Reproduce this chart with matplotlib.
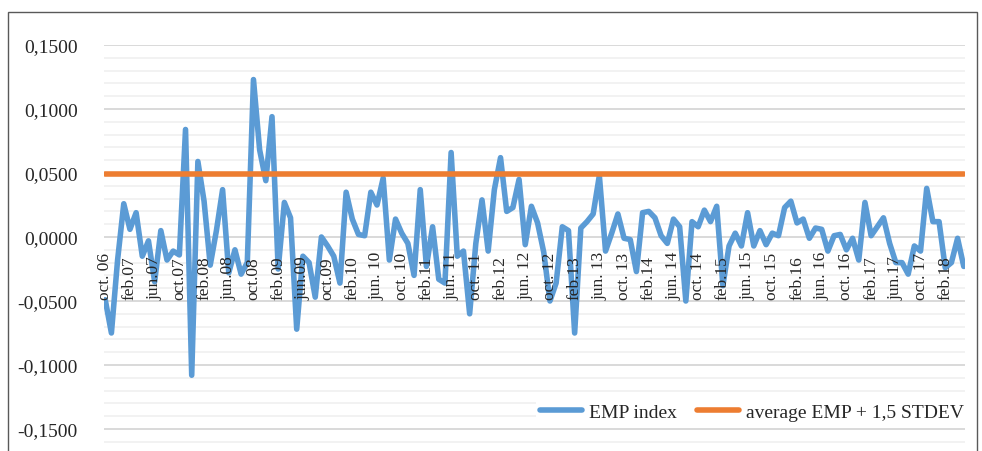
import matplotlib
matplotlib.use("Agg")
import matplotlib.pyplot as plt
from matplotlib.patches import Rectangle
from matplotlib.ticker import MultipleLocator

plt.rcParams['font.family'] = ['Liberation Serif', 'DejaVu Serif']

# EMP index, monthly from Oct 2006 to May 2018
emp_index = [
    -0.049, -0.075, -0.018, 0.026, 0.006, 0.019, -0.015, -0.003, -0.035, 0.005,
    -0.018, -0.011, -0.014, 0.084, -0.108, 0.059, 0.028, -0.022, 0.005, 0.037,
    -0.028, -0.010, -0.029, -0.020, 0.123, 0.068, 0.044, 0.094, -0.025, 0.027,
    0.015, -0.072, -0.015, -0.020, -0.047, 0.000, -0.007, -0.015, -0.036, 0.035,
    0.014, 0.002, 0.001, 0.035, 0.025, 0.046, -0.018, 0.014, 0.003, -0.005,
    -0.030, 0.037, -0.023, 0.008, -0.033, -0.036, 0.066, -0.015, -0.011, -0.060,
    -0.005, 0.029, -0.011, 0.037, 0.062, 0.020, 0.023, 0.045, -0.006, 0.024,
    0.011, -0.012, -0.050, -0.036, 0.008, 0.005, -0.075, 0.007, 0.012, 0.018,
    0.048, -0.011, 0.003, 0.018, -0.001, -0.002, -0.027, 0.019, 0.020, 0.015,
    0.001, -0.005, 0.014, 0.008, -0.050, 0.012, 0.008, 0.021, 0.012, 0.024,
    -0.038, -0.007, 0.003, -0.007, 0.019, -0.007, 0.005, -0.006, 0.003, 0.001,
    0.023, 0.028, 0.011, 0.014, -0.001, 0.007, 0.006, -0.011, 0.001, 0.002,
    -0.010, -0.001, -0.018, 0.027, 0.001, 0.008, 0.015, -0.005, -0.020, -0.020,
    -0.029, -0.007, -0.011, 0.038, 0.012, 0.012, -0.024, -0.020, -0.001, -0.023,
]
threshold_value = 0.049  # average EMP + 1,5 STDEV

tick_labels = [
    "oct. 06", "feb.07", "jun.07", "oct.07", "feb.08", "jun.08", "oct.08",
    "feb.09", "jun.09", "oct.09", "feb.10", "jun. 10", "oct. 10", "feb.11",
    "jun. 11", "oct. 11", "feb.12", "jun. 12", "oct. 12", "feb.13", "jun. 13",
    "oct. 13", "feb.14", "jun. 14", "oct. 14", "feb.15", "jun. 15", "oct. 15",
    "feb.16", "jun. 16", "oct. 16", "feb.17", "jun.17", "oct. 17", "feb.18",
]
tick_step = 4

y_ticks = [-0.15, -0.10, -0.05, 0.0, 0.05, 0.10, 0.15]
y_tick_labels = ["-0,1500", "-0,1000", "-0,0500", "0,0000", "0,0500", "0,1000", "0,1500"]

W, H = 982, 452
fig = plt.figure(figsize=(W / 100, H / 100), dpi=100)

ax_left, ax_right = 104, 965
y_top_px = 46
ymin, ymax = -0.165, 0.15
px_per_unit = 1280
ax_bottom_px = y_top_px + (ymax - ymin) * px_per_unit
ax = fig.add_axes([ax_left / W, 1 - ax_bottom_px / H,
                   (ax_right - ax_left) / W, (ax_bottom_px - y_top_px) / H])

n = len(emp_index)
x = list(range(n))
ax.set_xlim(-0.2, n - 1 + 0.2)
ax.set_ylim(ymin, ymax)

# gridlines
ax.yaxis.set_minor_locator(MultipleLocator(0.01))
ax.set_yticks(y_ticks)
ax.set_yticklabels(y_tick_labels, fontsize=14, color='#262626')
ax.grid(True, axis='y', which='major', color='#D9D9D9', linewidth=1.4, zorder=0)
ax.grid(True, axis='y', which='minor', color='#F2F2F2', linewidth=1.4, zorder=0)
ax.tick_params(axis='y', which='both', length=0, pad=19)
ax.set_xticks([])
for s in ax.spines.values():
    s.set_visible(False)

ax.plot(x, emp_index, color='#5B9BD5', linewidth=4.0, solid_joinstyle='round',
        solid_capstyle='round', label='EMP index', zorder=3)
ax.plot([x[0], x[-1]], [threshold_value, threshold_value], color='#ED7D31',
        linewidth=4.0, solid_capstyle='round', label='average EMP + 1,5 STDEV', zorder=4)

# x category labels inside the plot, below the zero axis, drawn over the lines
label_y = -0.0488
for k, lab in enumerate(tick_labels):
    ax.text(k * tick_step, label_y, lab, rotation=90, ha='center', va='bottom',
            fontsize=12.5, color='#262626', zorder=6)

leg = ax.legend(loc='center right', bbox_to_anchor=(968 / W, 1 - 413 / H),
                bbox_transform=fig.transFigure, ncol=2, fontsize=14,
                frameon=True, fancybox=False, edgecolor='none', facecolor='white',
                framealpha=1, handlelength=2.2, handletextpad=0.35,
                columnspacing=1.0, borderpad=0.2, borderaxespad=0)
for t in leg.get_texts():
    t.set_color('#262626')
leg.set_zorder(7)

# chart border
fig.add_artist(Rectangle((8 / W, -0.1), (977 - 8) / W, (H - 13) / H + 0.1,
                         transform=fig.transFigure, fill=False,
                         edgecolor='#595959', linewidth=1.0))

fig.savefig("out.png", dpi=100)
